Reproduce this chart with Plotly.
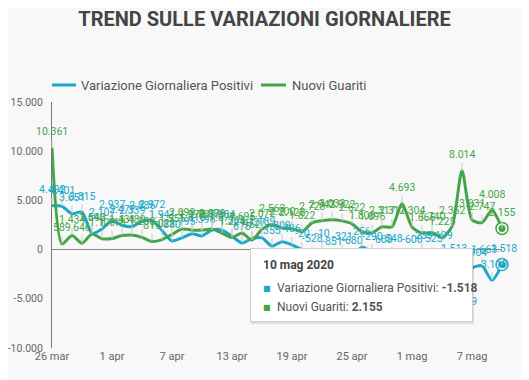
import plotly.graph_objects as go
import pandas as pd

# ---------------- data ----------------
dates = pd.date_range("2020-03-26", "2020-05-10", freq="D")

positivi = [4492, 4401, 3651, 3815, 1648, 2107,
            2937, 2477, 2339, 2886, 2972, 1941, 880, 1195, 1615, 1396,
            1996, 1984, 1363, 675, 1127, 1189, 355, 809, 486, -20,
            -528, -10, -851, -321, -680, 256, -290, -608, -548, -3106,
            -608, -239, -525, -199, -1513, -6939, -1904, -1663, -3119, -1518]

guariti = [10361, 589, 1434, 646, 1590, 1109,
           1118, 1431, 1480, 1238, 819, 1022, 1555, 2099, 1979, 1985,
           2079, 1677, 1224, 1695, 962, 2072, 2563, 2200, 2128, 1822,
           2723, 2943, 3033, 2922, 2622, 1808, 1696, 2317, 2311, 4693,
           2304, 1665, 1740, 1225, 2352, 8014, 3031, 2747, 4008, 2155]

tick_dates = ["2020-03-26", "2020-04-01", "2020-04-07", "2020-04-13",
              "2020-04-19", "2020-04-25", "2020-05-01", "2020-05-07"]
tick_labels = ["26 mar", "1 apr", "7 apr", "13 apr", "19 apr", "25 apr", "1 mag", "7 mag"]

y_tick_vals = [-10000, -5000, 0, 5000, 10000, 15000]
y_tick_labels = ["-10.000", "-5.000", "0", "5.000", "10.000", "15.000"]

name_pos = "Variazione Giornaliera Positivi"
name_gua = "Nuovi Guariti"
tooltip_date = "10 mag 2020"

# ---------------- style ----------------
BLUE = "#1aa8c8"
GREEN = "#43a547"
FONT = "Roboto"
OFF = 8                      # page body margin
W, H = 529 - OFF, 380 - OFF  # figure size
ML, MR, MT, MB = 52 - OFF, 27, 102 - OFF, 32
PW, PH = W - ML - MR, H - MT - MB


def fmt(v):
    return f"{v:,}".replace(",", ".")


def px(x):  # window pixel -> paper
    return (x - OFF - ML) / PW


def py(y):
    return (H - MB - (y - OFF)) / PH


fig = go.Figure()
fig.add_trace(go.Scatter(x=dates, y=positivi, name=name_pos, mode="lines",
                         line=dict(color=BLUE, width=3, shape="spline", smoothing=0.7),
                         hoverinfo="skip", showlegend=False))
fig.add_trace(go.Scatter(x=dates, y=guariti, name=name_gua, mode="lines",
                         line=dict(color=GREEN, width=3, shape="spline", smoothing=0.7),
                         hoverinfo="skip", showlegend=False))

# highlighted last points
for ser, col in ((guariti, GREEN), (positivi, BLUE)):
    fig.add_trace(go.Scatter(x=[dates[-1]], y=[ser[-1]], mode="markers", showlegend=False,
                             cliponaxis=False, hoverinfo="skip",
                             marker=dict(size=12, color="white", line=dict(color=col, width=1.5))))
    fig.add_trace(go.Scatter(x=[dates[-1]], y=[ser[-1]], mode="markers", showlegend=False,
                             cliponaxis=False, hoverinfo="skip",
                             marker=dict(size=7, color=col)))

annotations = []
shapes = []

# legend (drawn manually)
for x0, x1, tx, col, nm in ((52, 76, 79, BLUE, name_pos), (261, 286, 290, GREEN, name_gua)):
    shapes.append(dict(type="line", xref="paper", yref="paper", x0=px(x0), x1=px(x1),
                       y0=py(85), y1=py(85), line=dict(color=col, width=3)))
    annotations.append(dict(x=px(tx), y=py(85), xref="paper", yref="paper", xanchor="left",
                            yanchor="middle", text=nm, showarrow=False,
                            font=dict(family=FONT, size=13, color="#555")))

for ser, col in ((positivi, BLUE), (guariti, GREEN)):
    for d, v in zip(dates, ser):
        annotations.append(dict(x=d, y=v, xref="x", yref="y", text=fmt(v),
                                showarrow=True, arrowhead=0, arrowwidth=1, arrowcolor="#c8c8c8",
                                ax=0, ay=-16, font=dict(family=FONT, size=10.5, color=col)))

# tooltip box
bx0, bx1, by0, by1 = 250, 473, 248, 322
annotations.append(dict(x=px((bx0 + bx1) / 2 + 1), y=py((by0 + by1) / 2 + 1.5), xref="paper", yref="paper",
                        xanchor="center", yanchor="middle",
                        text=" ", showarrow=False, width=bx1 - bx0, height=by1 - by0,
                        bgcolor="rgba(0,0,0,0.10)", borderpad=0, borderwidth=0))
annotations.append(dict(x=px((bx0 + bx1) / 2), y=py((by0 + by1) / 2), xref="paper", yref="paper",
                        xanchor="center", yanchor="middle",
                        text=" ", showarrow=False, width=bx1 - bx0 - 2, height=by1 - by0 - 2,
                        bgcolor="white", bordercolor="#d0d0d0", borderwidth=1, borderpad=0))
annotations.append(dict(x=px(261), y=py(265), xref="paper", yref="paper", xanchor="left",
                        yanchor="middle",
                        text="<b>" + tooltip_date + "</b>", showarrow=False,
                        font=dict(family=FONT, size=12, color="#444")))
for yy, col, nm, val in ((288, BLUE, name_pos, positivi[-1]), (307, GREEN, name_gua, guariti[-1])):
    annotations.append(dict(x=px(260.5), y=py(yy), xref="paper", yref="paper", xanchor="left",
                            yanchor="middle",
                            text="■", showarrow=False, font=dict(family="DejaVu Sans", size=8, color=col)))
    annotations.append(dict(x=px(275), y=py(yy), xref="paper", yref="paper", xanchor="left",
                            yanchor="middle",
                            text=f"{nm}: <b>{fmt(val)}</b>", showarrow=False,
                            font=dict(family=FONT, size=12, color="#555")))

fig.update_layout(
    width=W, height=H,
    margin=dict(l=ML, r=MR, t=MT, b=MB, autoexpand=False),
    paper_bgcolor="#f8f8f8", plot_bgcolor="#f8f8f8",
    separators=",.",
    font=dict(family=FONT, color="#666"),
    title=dict(text="TREND SULLE VARIAZIONI GIORNALIERE", x=0.5 - OFF / 2 / W, xref="container",
               xanchor="center", y=1 - (18.5 - OFF) / H, yanchor="middle",
               font=dict(family=FONT, size=20, color="#444", weight="bold")),
    showlegend=False,
    xaxis=dict(range=[dates[0], dates[-1]], tickvals=tick_dates, ticktext=tick_labels,
               showgrid=False, zeroline=False, showline=False, ticks="", automargin=False,
               tickfont=dict(family=FONT, size=11, color="#666")),
    yaxis=dict(range=[-10000, 15000], tickvals=y_tick_vals, ticktext=y_tick_labels, automargin=False,
               showgrid=False, showline=True, linecolor="#777", linewidth=1,
               zeroline=True, zerolinecolor="#888", zerolinewidth=1, ticks="",
               ticklabelstandoff=6,
               tickfont=dict(family=FONT, size=10.5, color="#666")),
    annotations=annotations,
    shapes=shapes,
    hovermode=False,
)

fig.write_html("out.html")
